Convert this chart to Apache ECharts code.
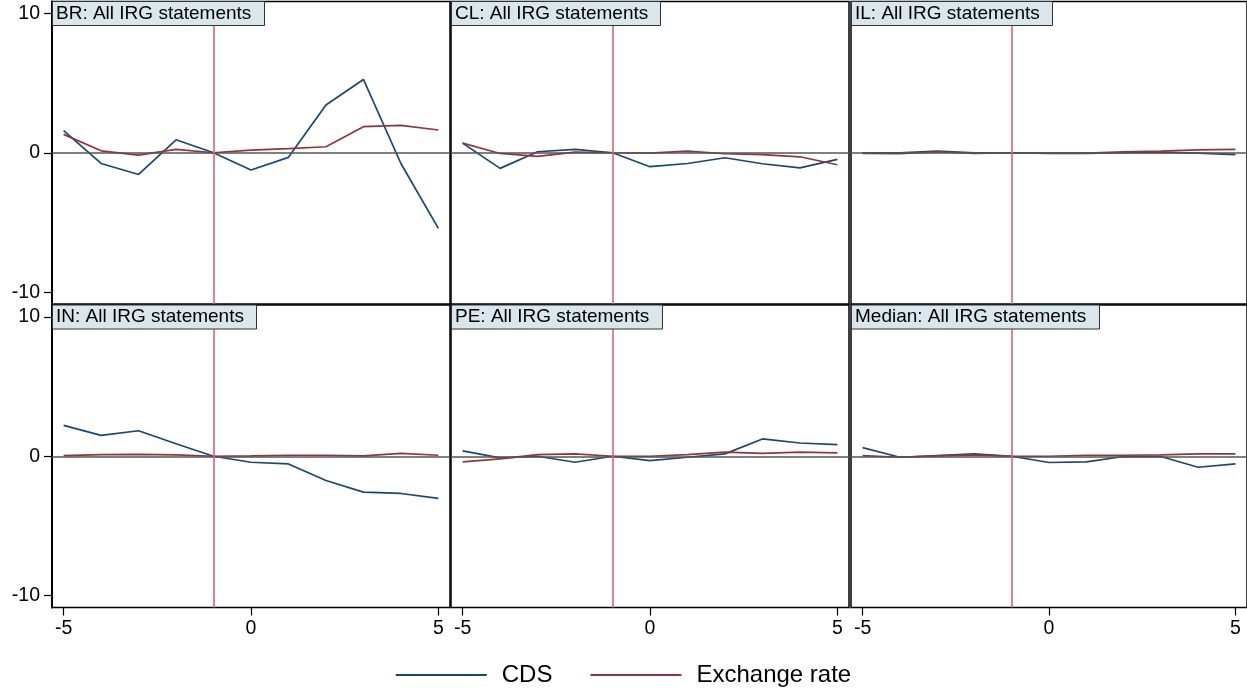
<!DOCTYPE html>
<html>
<head>
<meta charset="utf-8">
<script src="https://cdn.jsdelivr.net/npm/echarts@6/dist/echarts.min.js"></script>
<style>
  html, body { margin: 0; padding: 0; background: #fff; }
  #chart { width: 1247px; height: 688px; }
</style>
</head>
<body>
<div id="chart"></div>
<script>
// Event window (days relative to the statement)
const offsets = [-5, -4, -3, -2, -1, 0, 1, 2, 3, 4, 5];
const eventDay = -1;

// Panel titles
const panelTitles = [
  'BR: All IRG statements', 'CL: All IRG statements', 'IL: All IRG statements',
  'IN: All IRG statements', 'PE: All IRG statements', 'Median: All IRG statements'
];

// CDS responses per panel
const cdsBR     = [1.58, -0.77, -1.56, 0.93, 0, -1.24, -0.33, 3.42, 5.26, -0.77, -5.43];
const cdsCL     = [0.69, -1.12, 0.07, 0.24, 0, -1.0, -0.77, -0.36, -0.79, -1.08, -0.48];
const cdsIL     = [0.0, 0.0, 0.12, 0.0, 0, -0.05, -0.05, 0.0, 0.02, -0.02, -0.14];
const cdsIN     = [2.21, 1.5, 1.83, 0.9, 0, -0.43, -0.55, -1.74, -2.57, -2.67, -3.02];
const cdsPE     = [0.38, -0.12, 0.0, -0.43, 0, -0.31, -0.07, 0.17, 1.24, 0.95, 0.83];
const cdsMedian = [0.62, -0.07, 0.05, 0.17, 0, -0.45, -0.4, -0.02, -0.02, -0.79, -0.55];

// Exchange-rate responses per panel
const fxBR     = [1.32, 0.14, -0.17, 0.24, 0, 0.19, 0.29, 0.43, 1.87, 1.96, 1.63];
const fxCL     = [0.69, -0.05, -0.26, 0.05, 0, -0.02, 0.12, -0.07, -0.14, -0.29, -0.86];
const fxIL     = [-0.05, -0.07, 0.07, -0.05, 0, -0.02, -0.02, 0.07, 0.12, 0.21, 0.24];
const fxIN     = [0.05, 0.12, 0.14, 0.1, 0, 0.02, 0.07, 0.07, 0.02, 0.21, 0.07];
const fxPE     = [-0.4, -0.19, 0.12, 0.17, 0, 0.0, 0.12, 0.29, 0.21, 0.29, 0.24];
const fxMedian = [0.05, -0.07, 0.02, 0.1, 0, 0.0, 0.07, 0.07, 0.1, 0.17, 0.17];

// Axis tick labels
const xTicks = [-5, 0, 5];
const yTicks = [-10, 0, 10];

const cdsPanels = [cdsBR, cdsCL, cdsIL, cdsIN, cdsPE, cdsMedian];
const fxPanels  = [fxBR, fxCL, fxIL, fxIN, fxPE, fxMedian];

const FONT = '"Liberation Sans", Arial, Helvetica, sans-serif';
const CDS_COLOR = '#1a476f';
const FX_COLOR = '#90353b';
const colLeft = [52, 451, 851];
const colWidth = [398, 398, 396];
const rowTop = [1.5, 305];
const rowHeight = 302.5;

const grids = [], xAxes = [], yAxes = [], series = [], titles = [];

for (let i = 0; i < 6; i++) {
  const r = Math.floor(i / 3), c = i % 3;
  grids.push({
    left: colLeft[c], top: rowTop[r], width: colWidth[c], height: rowHeight,
    show: true, borderColor: '#000', borderWidth: 1.5, backgroundColor: '#fff'
  });
  const bottomRow = r === 1, firstCol = c === 0;
  xAxes.push({
    type: 'value', gridIndex: i, min: -5.31, max: 5.31, position: 'bottom',
    splitLine: { show: false },
    axisLine: { show: false, onZero: false },
    axisTick: { show: bottomRow, customValues: xTicks, length: 8, lineStyle: { color: '#000', width: 1.2 } },
    axisLabel: { show: bottomRow, customValues: xTicks, fontSize: 19.5, color: '#000', fontFamily: FONT, margin: 11 }
  });
  yAxes.push({
    type: 'value', gridIndex: i, min: -10.85, max: 10.85, position: 'left',
    splitLine: { show: false },
    axisLine: { show: firstCol, onZero: false, lineStyle: { color: '#000', width: 2 } },
    axisTick: { show: firstCol, customValues: yTicks, length: 8, lineStyle: { color: '#000', width: 1.2 } },
    axisLabel: { show: firstCol, customValues: yTicks, fontSize: 19.5, color: '#000', fontFamily: FONT, margin: 12 }
  });
  titles.push({
    text: panelTitles[i],
    left: colLeft[c], top: rowTop[r] - 0.5,
    backgroundColor: '#d9e6ec', borderColor: '#333', borderWidth: 1,
    padding: [3, 13, 3, 4],
    textStyle: { fontSize: 19, fontWeight: 'normal', color: '#000', fontFamily: FONT }
  });
  series.push({
    name: 'CDS', type: 'line', xAxisIndex: i, yAxisIndex: i,
    data: offsets.map((d, k) => [d, cdsPanels[i][k]]),
    showSymbol: false, symbol: 'none',
    lineStyle: { color: CDS_COLOR, width: 1.7 }, itemStyle: { color: CDS_COLOR },
    z: 3,
    markLine: {
      silent: true, symbol: 'none', animation: false,
      label: { show: false },
      data: [
        { yAxis: 0, lineStyle: { color: '#555', width: 1.5, type: 'solid' } },
        { xAxis: eventDay, lineStyle: { color: '#d5647f', width: 1.6, type: 'solid' } }
      ]
    }
  });
  series.push({
    name: 'Exchange rate', type: 'line', xAxisIndex: i, yAxisIndex: i,
    data: offsets.map((d, k) => [d, fxPanels[i][k]]),
    showSymbol: false, symbol: 'none',
    lineStyle: { color: FX_COLOR, width: 1.7 }, itemStyle: { color: FX_COLOR },
    z: 4
  });
}

const chart = echarts.init(document.getElementById('chart'), null, { renderer: 'canvas' });
chart.setOption({
  animation: false,
  backgroundColor: '#fff',
  title: titles,
  grid: grids,
  xAxis: xAxes,
  yAxis: yAxes,
  legend: {
    data: ['CDS', 'Exchange rate'],
    left: 'center', top: 658,
    icon: 'rect', itemWidth: 91, itemHeight: 2, itemGap: 38,
    textStyle: { fontSize: 24, color: '#000', fontFamily: FONT, padding: [0, 0, 0, 10] }
  },
  series: series
});
</script>
</body>
</html>
